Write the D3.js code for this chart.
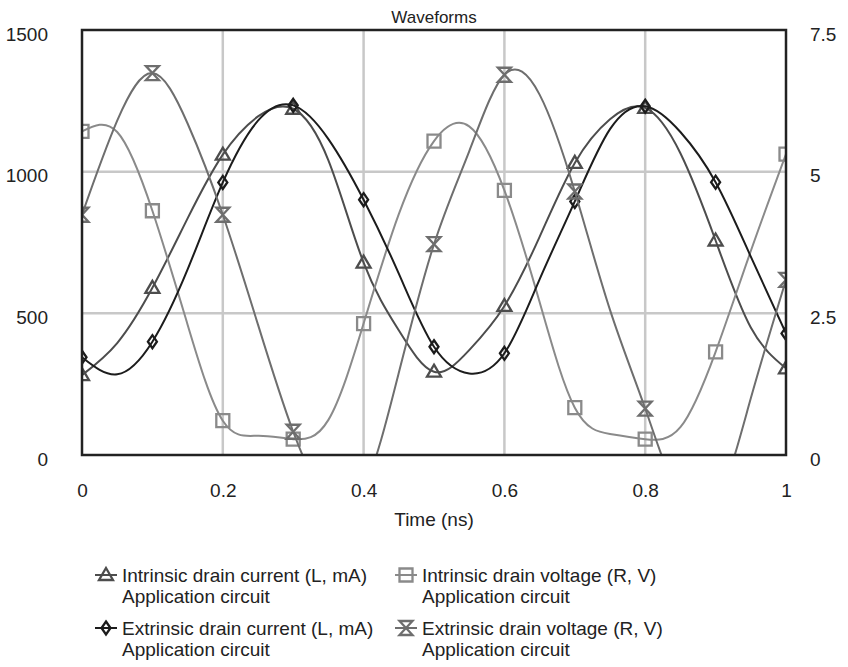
<!DOCTYPE html>
<html><head><meta charset="utf-8">
<script src="https://cdn.jsdelivr.net/npm/d3@7/dist/d3.min.js"></script>
<style>
body{margin:0;background:#fff}
svg text{font-family:"Liberation Sans",Arial,sans-serif;fill:#222}
</style>
</head><body>
<svg id="chart" width="848" height="667"></svg>
<script>
// ---- data ----
const timeNs = [0,0.05,0.1,0.15,0.2,0.25,0.3,0.35,0.4,0.45,0.5,0.55,0.6,0.65,0.7,0.75,0.8,0.85,0.9,0.95,1.0];
const intrinsicCurrent = [282,395,590,835,1060,1195,1222,1040,679,440,294,370,526,770,1031,1185,1225,1065,757,450,306];   // mA, left
const extrinsicCurrent = [345,285,400,655,962,1180,1234,1115,901,640,382,288,359,620,895,1150,1231,1140,963,700,429];     // mA, left
const intrinsicVoltage = [5.71,5.70,4.31,2.3,0.605,0.34,0.28,0.62,2.32,4.25,5.54,5.80,4.67,2.7,0.835,0.37,0.28,0.49,1.82,3.6,5.31]; // V, right
const extrinsicVoltage = [4.24,5.9,6.74,5.85,4.24,2.3,0.41,-0.8,-0.6,1.45,3.72,5.36,6.71,6.36,4.65,2.56,0.82,-0.8,-0.9,1.0,3.09]; // V, right

const xTicks = [0,0.2,0.4,0.6,0.8,1];
const xTickLabels = ["0","0.2","0.4","0.6","0.8","1"];
const leftTicks = [0,500,1000,1500];
const leftTickLabels = ["0","500","1000","1500"];
const rightTicks = [0,2.5,5,7.5];
const rightTickLabels = ["0","2.5","5","7.5"];
const chartTitle = "Waveforms";
const xTitle = "Time (ns)";
const legendLine1 = ["Intrinsic drain current (L, mA)","Intrinsic drain voltage (R, V)","Extrinsic drain current (L, mA)","Extrinsic drain voltage (R, V)"];
const legendLine2 = "Application circuit";

// ---- layout ----
const L = 82, R = 786, T = 30, B = 455;
const svg = d3.select("#chart");
const x = d3.scaleLinear().domain([0,1]).range([L,R]);
const yL = d3.scaleLinear().domain([0,1500]).range([B,T]);
const yR = d3.scaleLinear().domain([0,7.5]).range([B,T]);

const sym = {
  triangle: "M0,-7L7,5L-7,5Z",
  square: "M-6.5,-6.5H6.5V6.5H-6.5Z",
  diamond: "M0,-6.5L4.5,0L0,6.5L-4.5,0Z",
  hourglass: "M-6.5,-7H6.5L-6.5,7H6.5Z"
};

const series = [
  {name:legendLine1[0], values:intrinsicCurrent, y:yL, color:"#4d4d4d", symbol:"triangle"},
  {name:legendLine1[1], values:intrinsicVoltage, y:yR, color:"#8a8a8a", symbol:"square"},
  {name:legendLine1[2], values:extrinsicCurrent, y:yL, color:"#1c1c1c", symbol:"diamond"},
  {name:legendLine1[3], values:extrinsicVoltage, y:yR, color:"#6e6e6e", symbol:"hourglass"}
];

svg.append("defs").append("clipPath").attr("id","plotclip")
  .append("rect").attr("x",L).attr("y",T).attr("width",R-L).attr("height",B-T);

// gridlines
const grid = svg.append("g");
grid.selectAll("line.v").data(xTicks.slice(1,-1)).join("line")
  .attr("x1",d=>x(d)).attr("x2",d=>x(d)).attr("y1",T).attr("y2",B)
  .attr("stroke","#c8c8c8").attr("stroke-width",2.5);
grid.selectAll("line.h").data(leftTicks.slice(1,-1)).join("line")
  .attr("x1",L).attr("x2",R).attr("y1",d=>yL(d)).attr("y2",d=>yL(d))
  .attr("stroke","#c8c8c8").attr("stroke-width",2.5);

// series
const plot = svg.append("g").attr("clip-path","url(#plotclip)");
series.forEach(s=>{
  const line = d3.line().x((d,i)=>x(timeNs[i])).y(d=>s.y(d)).curve(d3.curveNatural);
  plot.append("path").datum(s.values).attr("d",line)
    .attr("fill","none").attr("stroke",s.color).attr("stroke-width",2);
  const pts = s.values.map((v,i)=>({t:timeNs[i],v})).filter((d,i)=>i%2===0);
  plot.selectAll(null).data(pts).join("path")
    .attr("transform",d=>`translate(${x(d.t)},${s.y(d.v)})`)
    .attr("d",sym[s.symbol]).attr("fill","none")
    .attr("stroke",s.color).attr("stroke-width",2.3);
});

// frame
svg.append("rect").attr("x",L).attr("y",T).attr("width",R-L).attr("height",B-T)
  .attr("fill","none").attr("stroke","#222").attr("stroke-width",2.5);

// axes
const fs = 19;
const axL = svg.append("g").attr("transform",`translate(${L},0)`)
  .call(d3.axisLeft(yL).tickValues(leftTicks).tickSize(0).tickPadding(34).tickFormat((d,i)=>leftTickLabels[i]));
const axR = svg.append("g").attr("transform",`translate(${R},0)`)
  .call(d3.axisRight(yR).tickValues(rightTicks).tickSize(0).tickPadding(24).tickFormat((d,i)=>rightTickLabels[i]));
const axX = svg.append("g").attr("transform",`translate(0,${B})`)
  .call(d3.axisBottom(x).tickValues(xTicks).tickSize(0).tickPadding(29).tickFormat((d,i)=>xTickLabels[i]));
[axL,axR,axX].forEach(a=>{
  a.select(".domain").remove();
  a.selectAll("text").attr("font-size",fs).attr("fill","#222").style("font-family",'"Liberation Sans",Arial,sans-serif');
});
axL.selectAll("text").attr("dy","0.85em").attr("y",-6);
axR.selectAll("text").attr("dy","0.85em").attr("y",-6);

// titles
svg.append("text").attr("x",(L+R)/2).attr("y",23).attr("text-anchor","middle").attr("font-size",17).text(chartTitle);
svg.append("text").attr("x",(L+R)/2).attr("y",526).attr("text-anchor","middle").attr("font-size",fs).text(xTitle);

// legend
const legPos = [[95,575],[395,575],[95,628],[395,628]];
series.forEach((s,i)=>{
  const [lx,ly] = legPos[i];
  const g = svg.append("g");
  g.append("line").attr("x1",lx).attr("x2",lx+22).attr("y1",ly).attr("y2",ly)
    .attr("stroke",s.color).attr("stroke-width",2);
  g.append("path").attr("transform",`translate(${lx+11},${ly})`).attr("d",sym[s.symbol])
    .attr("fill","none").attr("stroke",s.color).attr("stroke-width",2.3);
  g.append("text").attr("x",lx+27).attr("y",ly+7).attr("font-size",fs).text(s.name);
  g.append("text").attr("x",lx+27).attr("y",ly+28).attr("font-size",fs).text(legendLine2);
});
</script>
</body></html>
